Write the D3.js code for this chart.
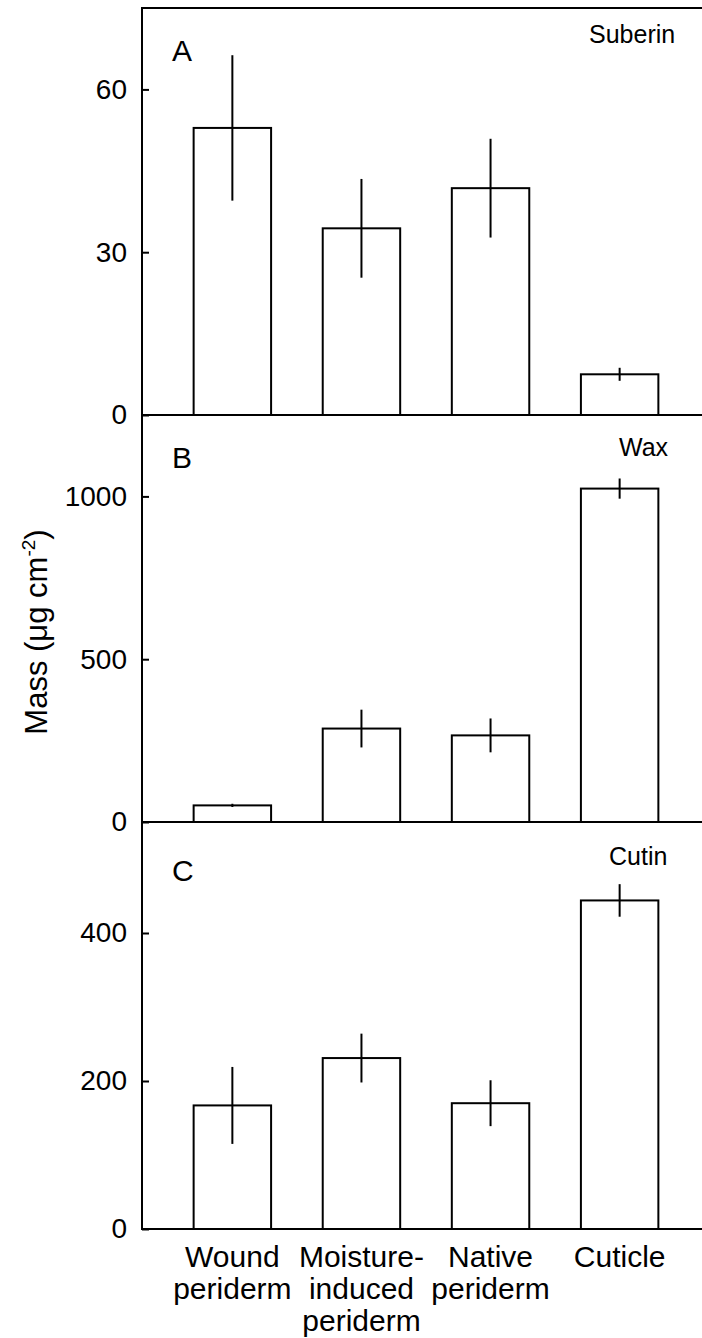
<!DOCTYPE html>
<html>
<head>
<meta charset="utf-8">
<script src="https://cdn.jsdelivr.net/npm/d3@7"></script>
<style>
  body { margin: 0; background: #fff; }
  text { font-family: "Liberation Sans", Arial, sans-serif; fill: #000; }
</style>
</head>
<body>
<div id="chart"></div>
<script>
const svgWidth = 702
const svgHeight = 1338

// categories and label lines
const categories = ["Wound periderm", "Moisture-induced periderm", "Native periderm", "Cuticle"]
const categoryLines = [["Wound", "periderm"], ["Moisture-", "induced", "periderm"], ["Native", "periderm"], ["Cuticle"]]

// panel A - suberin
const suberin = [52.9, 34.4, 41.8, 7.5]
const suberinErr = [13.4, 9.1, 9.1, 1.2]
const suberinTicks = [0, 30, 60]

// panel B - wax
const wax = [51, 287, 266, 1024]
const waxErr = [5, 58, 52, 31]
const waxTicks = [0, 500, 1000]

// panel C - cutin
const cutin = [167, 231, 170, 444]
const cutinErr = [52, 33, 31, 22]
const cutinTicks = [0, 200, 400]

const panels = [
  { letter: "A", title: "Suberin", values: suberin, errs: suberinErr, ticks: suberinTicks, max: 75, top: 8, bottom: 415, titleX: 589, titleY: 43, letterY: 61 },
  { letter: "B", title: "Wax", values: wax, errs: waxErr, ticks: waxTicks, max: 1250, top: 415, bottom: 822, titleX: 619, titleY: 456, letterY: 468 },
  { letter: "C", title: "Cutin", values: cutin, errs: cutinErr, ticks: cutinTicks, max: 550, top: 822, bottom: 1229, titleX: 609, titleY: 865, letterY: 881 }
]

const left = 142
const right = 710

let svg = d3
  .select("#chart")
  .append("svg")
  .attr("width", svgWidth)
  .attr("height", svgHeight)

let x = d3
  .scaleBand()
  .domain(categories)
  .range([left, right])
  .paddingInner(0.4)
  .paddingOuter(0.4)

panels.forEach(p => {
  let y = d3.scaleLinear().domain([0, p.max]).range([p.bottom, p.top])
  let g = svg.append("g")

  // bars
  g.selectAll("rect")
    .data(p.values)
    .enter()
    .append("rect")
    .attr("x", (d, i) => x(categories[i]))
    .attr("y", d => y(d))
    .attr("width", x.bandwidth())
    .attr("height", d => y(0) - y(d))
    .attr("fill", "#fff")
    .attr("stroke", "#000")
    .attr("stroke-width", 2)

  // error bars
  g.selectAll("line.err")
    .data(p.values)
    .enter()
    .append("line")
    .attr("class", "err")
    .attr("x1", (d, i) => x(categories[i]) + x.bandwidth() / 2)
    .attr("x2", (d, i) => x(categories[i]) + x.bandwidth() / 2)
    .attr("y1", (d, i) => y(d - p.errs[i]))
    .attr("y2", (d, i) => y(d + p.errs[i]))
    .attr("stroke", "#000")
    .attr("stroke-width", 2)

  // y axis with inward ticks
  let axis = g.append("g")
    .attr("transform", `translate(${left}, 0)`)
    .call(d3.axisLeft(y).tickValues(p.ticks).tickFormat(d3.format("d")).tickSizeInner(-7).tickSizeOuter(0).tickPadding(15))
  axis.select(".domain").remove()
  axis.selectAll("line").attr("stroke", "#000").attr("stroke-width", 2)
  axis.selectAll("text")
    .attr("font-size", "28px")
    .attr("font-family", "'Liberation Sans', Arial, sans-serif")
    .attr("fill", "#000")

  // frame lines
  g.append("line")
    .attr("x1", left).attr("x2", svgWidth)
    .attr("y1", p.top).attr("y2", p.top)
    .attr("stroke", "#000").attr("stroke-width", 2)
  g.append("line")
    .attr("x1", left).attr("x2", svgWidth)
    .attr("y1", p.bottom).attr("y2", p.bottom)
    .attr("stroke", "#000").attr("stroke-width", 2)
  g.append("line")
    .attr("x1", left).attr("x2", left)
    .attr("y1", p.top - 1).attr("y2", p.bottom + 1)
    .attr("stroke", "#000").attr("stroke-width", 2)

  g.append("text")
    .attr("x", 172)
    .attr("y", p.letterY)
    .attr("font-size", "30px")
    .text(p.letter)

  g.append("text")
    .attr("x", p.titleX)
    .attr("y", p.titleY)
    .attr("font-size", "25px")
    .text(p.title)
})

// category labels
let labels = svg.selectAll("text.cat")
  .data(categoryLines)
  .enter()
  .append("text")
  .attr("class", "cat")
  .attr("text-anchor", "middle")
  .attr("font-size", "30px")

labels.each(function(lines, i) {
  let cx = x(categories[i]) + x.bandwidth() / 2
  d3.select(this)
    .selectAll("tspan")
    .data(lines)
    .enter()
    .append("tspan")
    .attr("x", cx)
    .attr("y", (d, j) => 1267 + j * 32)
    .text(d => d)
})

// y axis title
let ylab = svg.append("text")
  .attr("transform", `translate(47, 632) rotate(-90)`)
  .attr("text-anchor", "middle")
  .attr("font-size", "31px")
ylab.append("tspan").text("Mass (μg cm")
ylab.append("tspan").attr("font-size", "19px").attr("dy", -12).text("-2")
ylab.append("tspan").attr("dy", 12).text(")")
</script>
</body>
</html>
